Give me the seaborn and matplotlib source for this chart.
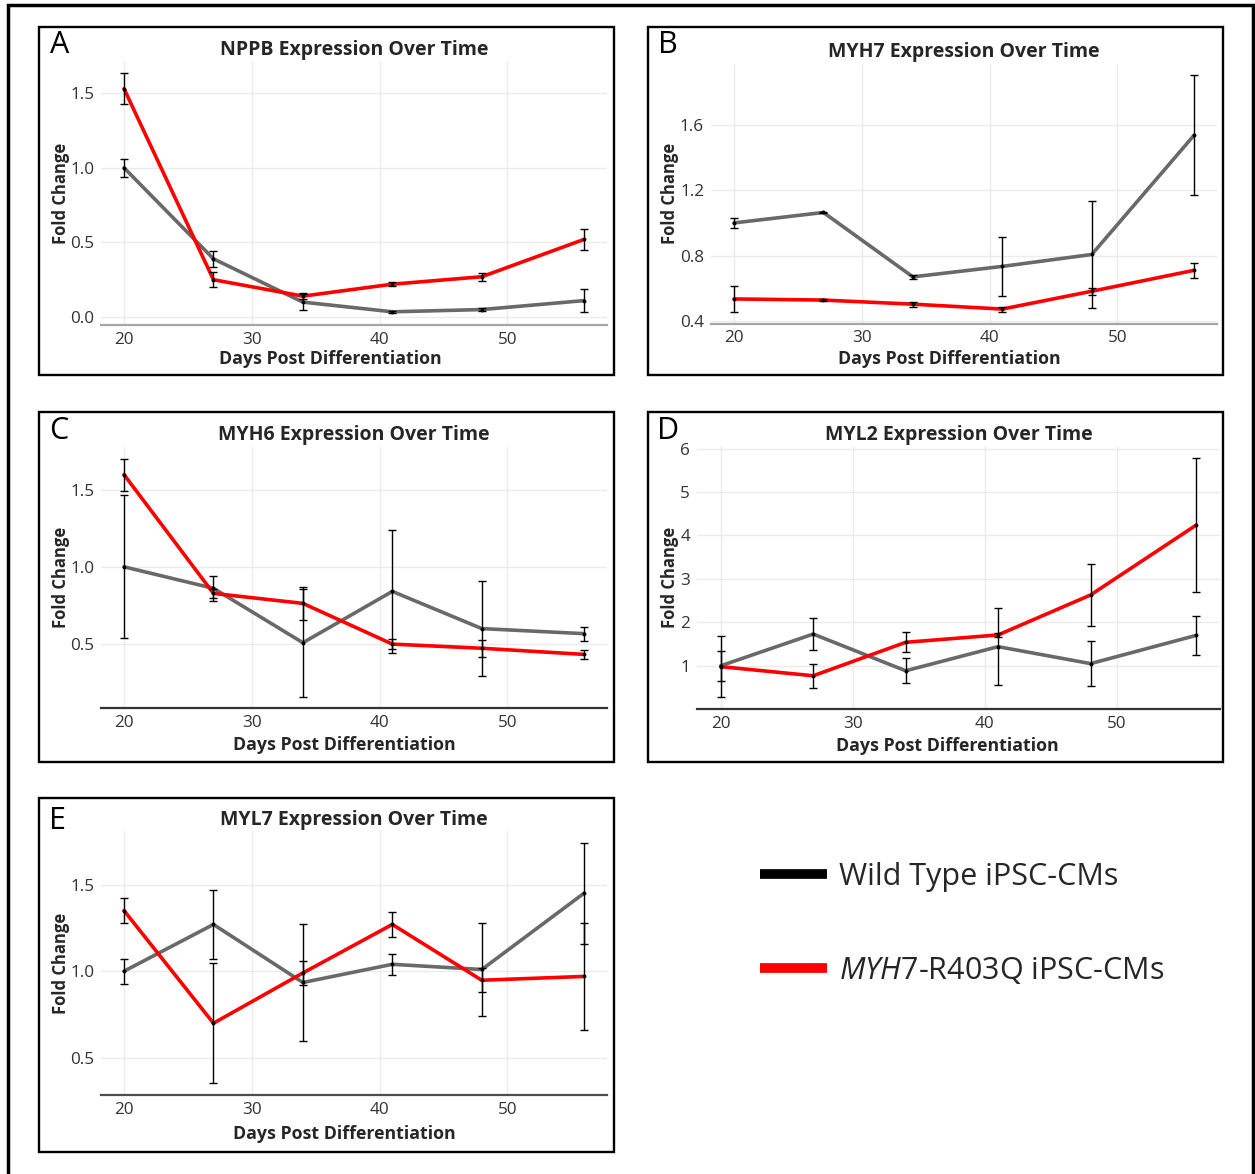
import numpy as np
import pandas as pd
import matplotlib
matplotlib.use("Agg")
import matplotlib.pyplot as plt
from matplotlib.patches import Rectangle
from matplotlib.lines import Line2D
import seaborn as sns

# ---------------- data ----------------
days = [20, 27, 34, 41, 48, 56]
genes = ["NPPB", "MYH7", "MYH6", "MYL2", "MYL7"]
letters = ["A", "B", "C", "D", "E"]
group_labels = ["Wild Type iPSC-CMs", "MYH7-R403Q iPSC-CMs"]

nppb_wt = [1.00, 0.39, 0.10, 0.035, 0.05, 0.11]
nppb_wt_err = [0.06, 0.055, 0.055, 0.008, 0.008, 0.075]
nppb_mut = [1.53, 0.25, 0.14, 0.22, 0.27, 0.52]
nppb_mut_err = [0.105, 0.05, 0.02, 0.015, 0.028, 0.07]

myh7_wt = [1.00, 1.064, 0.67, 0.734, 0.807, 1.536]
myh7_wt_err = [0.03, 0.005, 0.012, 0.18, 0.33, 0.367]
myh7_mut = [0.535, 0.528, 0.503, 0.473, 0.582, 0.71]
myh7_mut_err = [0.078, 0.006, 0.015, 0.015, 0.02, 0.047]

myh6_wt = [1.00, 0.86, 0.506, 0.84, 0.598, 0.565]
myh6_wt_err = [0.465, 0.08, 0.35, 0.40, 0.31, 0.045]
myh6_mut = [1.60, 0.827, 0.762, 0.497, 0.47, 0.43]
myh6_mut_err = [0.105, 0.03, 0.105, 0.035, 0.055, 0.027]

myl2_wt = [1.00, 1.73, 0.885, 1.44, 1.05, 1.70]
myl2_wt_err = [0.34, 0.36, 0.285, 0.89, 0.525, 0.45]
myl2_mut = [0.98, 0.77, 1.54, 1.71, 2.63, 4.24]
myl2_mut_err = [0.70, 0.275, 0.23, 0.04, 0.715, 1.545]

myl7_wt = [1.00, 1.27, 0.935, 1.04, 1.01, 1.45]
myl7_wt_err = [0.072, 0.20, 0.335, 0.06, 0.27, 0.29]
myl7_mut = [1.35, 0.70, 0.99, 1.27, 0.948, 0.97]
myl7_mut_err = [0.07, 0.345, 0.07, 0.07, 0.068, 0.31]

wt_values = [nppb_wt, myh7_wt, myh6_wt, myl2_wt, myl7_wt]
wt_errors = [nppb_wt_err, myh7_wt_err, myh6_wt_err, myl2_wt_err, myl7_wt_err]
mut_values = [nppb_mut, myh7_mut, myh6_mut, myl2_mut, myl7_mut]
mut_errors = [nppb_mut_err, myh7_mut_err, myh6_mut_err, myl2_mut_err, myl7_mut_err]

yticks = [[0.0, 0.5, 1.0, 1.5], [0.4, 0.8, 1.2, 1.6], [0.5, 1.0, 1.5],
          [1, 2, 3, 4, 5, 6], [0.5, 1.0, 1.5]]
ytick_labels = [["0.0", "0.5", "1.0", "1.5"], ["0.4", "0.8", "1.2", "1.6"],
                ["0.5", "1.0", "1.5"], ["1", "2", "3", "4", "5", "6"],
                ["0.5", "1.0", "1.5"]]
xticks = [20, 30, 40, 50]

# ---------------- style ----------------
sns.set_style("white")
plt.rcParams["font.family"] = ["Open Sans", "DejaVu Sans"]
plt.rcParams["mathtext.fontset"] = "custom"
plt.rcParams["mathtext.it"] = "Open Sans:italic"
plt.rcParams["mathtext.rm"] = "Open Sans"

W, H = 1255, 1174
fig = plt.figure(figsize=(W / 100, H / 100), dpi=100)
fig.patch.set_facecolor("white")

def frac(l, t, r, b):
    return [l / W, 1 - b / H, (r - l) / W, (b - t) / H]

axes_px = [(101, 61, 607, 325), (711, 63.5, 1217, 323.5), (101, 446.6, 607, 708.4),
           (697, 446, 1220, 709), (101, 831, 607, 1095)]
boxes_px = [(39, 27, 614, 375), (648, 27, 1223, 375), (39, 412, 614, 762),
            (648, 412, 1223, 762), (39, 798, 614, 1152)]
letter_px = [(50, 45), (658, 45), (49, 431), (657, 431), (49, 821)]
xlabel_x = [0.453, 0.47, 0.48, 0.478, 0.48]
xlabel_pad = [34, 35, 37, 37, 39]
axis_line_colors = ["#a6a6a6", "#a6a6a6", "#333333", "#333333", "#4d4d4d"]

WT_COLOR = "#696969"
MUT_COLOR = "#ff0000"
palette = {group_labels[0]: WT_COLOR, group_labels[1]: MUT_COLOR}

# outer frame
fig.add_artist(Rectangle((8 / W, 1 - 1180 / H), (1253 - 8) / W, (1180 - 5) / H,
                         transform=fig.transFigure, fill=False, ec="black", lw=2.5))

for i in range(5):
    l, t, r, b = boxes_px[i]
    fig.add_artist(Rectangle((l / W, 1 - b / H), (r - l) / W, (b - t) / H,
                             transform=fig.transFigure, fill=False, ec="black", lw=1.7))
    ax = fig.add_axes(frac(*axes_px[i]))
    df = pd.DataFrame({
        "day": days + days,
        "value": wt_values[i] + mut_values[i],
        "group": [group_labels[0]] * len(days) + [group_labels[1]] * len(days),
    })
    sns.lineplot(data=df, x="day", y="value", hue="group", palette=palette,
                 hue_order=group_labels, linewidth=2.6, legend=False, ax=ax,
                 errorbar=None, zorder=3)
    for vals, errs in [(wt_values[i], wt_errors[i]), (mut_values[i], mut_errors[i])]:
        ax.errorbar(days, vals, yerr=errs, fmt="o", color="black", ms=1.8,
                    elinewidth=1.0, capsize=3.2, capthick=1.0, zorder=4)
    lo = min(np.array(wt_values[i]) - np.array(wt_errors[i]))
    lo = min(lo, min(np.array(mut_values[i]) - np.array(mut_errors[i])))
    hi = max(np.array(wt_values[i]) + np.array(wt_errors[i]))
    hi = max(hi, max(np.array(mut_values[i]) + np.array(mut_errors[i])))
    rng = hi - lo
    ax.set_ylim(lo - 0.05 * rng, hi + 0.05 * rng)
    xr = max(days) - min(days)
    ax.set_xlim(min(days) - 0.05 * xr, max(days) + 0.05 * xr)
    ax.set_xticks(xticks)
    ax.set_xticklabels([str(x) for x in xticks])
    ax.set_yticks(yticks[i])
    ax.set_yticklabels(ytick_labels[i])
    ax.grid(True, color="#ebebeb", lw=1.0)
    ax.set_axisbelow(True)
    for s in ["top", "right", "left"]:
        ax.spines[s].set_visible(False)
    ax.spines["bottom"].set_color(axis_line_colors[i])
    ax.spines["bottom"].set_linewidth(1.6)
    ax.tick_params(axis="both", length=0, labelsize=12.3, labelcolor="#333333", pad=5)
    ax.set_title(f"{genes[i]} Expression Over Time", fontsize=14,
                 fontweight="bold", pad=4.5)
    ax.set_xlabel("Days Post Differentiation", fontsize=12.8, fontweight="bold")
    ax.set_ylabel("Fold Change", fontsize=12, fontweight="bold")
    axw = axes_px[i][2] - axes_px[i][0]
    axh = axes_px[i][3] - axes_px[i][1]
    ax.xaxis.set_label_coords(xlabel_x[i], -xlabel_pad[i] / axh)
    ax.xaxis.label.set_va("center")
    ax.yaxis.set_label_coords(-(axes_px[i][0] - (boxes_px[i][0] + 22)) / axw, 0.5)
    ax.yaxis.label.set_va("center")
    lx, ly = letter_px[i]
    fig.text(lx / W, 1 - ly / H, letters[i], fontsize=22, ha="left", va="center",
             color="black")

handles = [Line2D([], [], color="black", lw=7, solid_capstyle="butt"),
           Line2D([], [], color=MUT_COLOR, lw=7, solid_capstyle="butt")]
labels = ["Wild Type iPSC-CMs", r"$\mathit{MYH7}$-R403Q iPSC-CMs"]
fig.legend(handles, labels, loc="center left", bbox_to_anchor=(760 / W, 1 - 924 / H),
           frameon=False, fontsize=22, handlelength=2.2, handletextpad=0.4,
           labelspacing=2.05, borderpad=0, borderaxespad=0)

fig.savefig("out.png", dpi=100, facecolor="white")
